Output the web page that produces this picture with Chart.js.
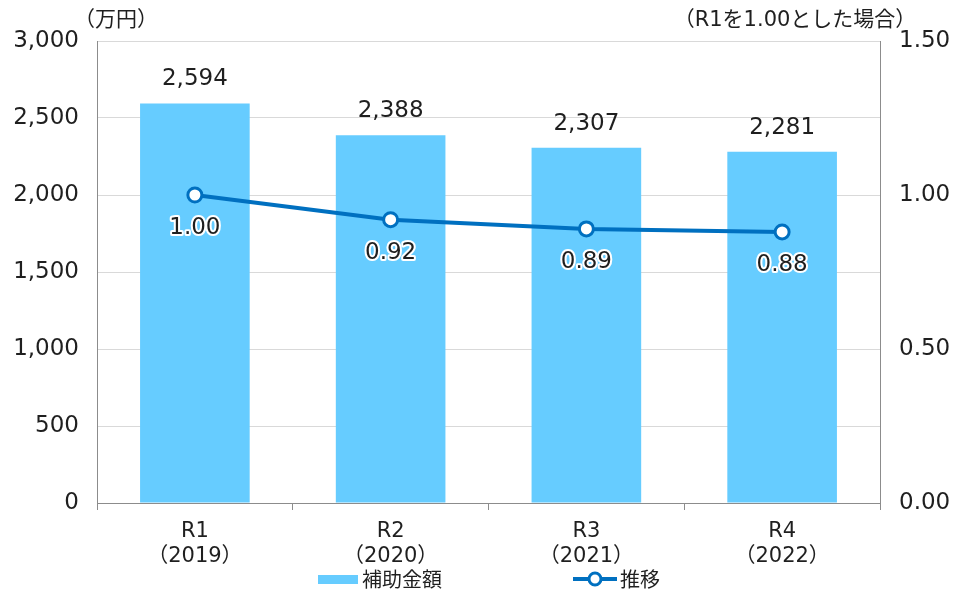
<!DOCTYPE html>
<html>
<head>
<meta charset="utf-8">
<script src="https://cdn.jsdelivr.net/npm/chart.js@4/dist/chart.umd.min.js"></script>
<style>
  html, body { margin: 0; padding: 0; background: #fff; }
  #wrap { position: relative; width: 957px; height: 592px; }
</style>
</head>
<body>
<div id="wrap"><canvas id="chart" width="957" height="592"></canvas></div>
<script>
const categories = [["R1", "（2019）"], ["R2", "（2020）"], ["R3", "（2021）"], ["R4", "（2022）"]];
const subsidyValues = [2594, 2388, 2307, 2281];
const trendValues = [1.00, 0.92, 0.89, 0.88];
const leftTicks = [0, 500, 1000, 1500, 2000, 2500, 3000];
const rightTicks = [0, 0.5, 1.0, 1.5];

const FONT = "'DejaVu Sans', 'Noto Sans CJK JP', sans-serif";
const CJK = "'Noto Sans CJK JP', 'DejaVu Sans', sans-serif";
const barColor = "#66CCFF";
const lineColor = "#0070C0";
const textColor = "#1f1f1f";

// data labels, unit captions and legend drawn on the canvas
const extras = {
    id: "extras",
    afterDatasetsDraw(chart) {
        const ctx = chart.ctx;
        ctx.save();
        ctx.font = "23px " + FONT;
        ctx.textAlign = "center";
        ctx.textBaseline = "middle";
        ctx.fillStyle = textColor;
        chart.getDatasetMeta(1).data.forEach((bar, i) => {
            ctx.fillText(subsidyValues[i].toLocaleString("en-US"), bar.x, bar.y - 24);
        });
        chart.getDatasetMeta(0).data.forEach((pt, i) => {
            const txt = trendValues[i].toFixed(2);
            ctx.lineWidth = 4;
            ctx.strokeStyle = "#fff";
            ctx.lineJoin = "round";
            ctx.strokeText(txt, pt.x, pt.y + 33);
            ctx.fillText(txt, pt.x, pt.y + 33);
        });

        // unit captions
        ctx.font = "21px " + FONT;
        ctx.fillText("（万円）", 116, 21);
        ctx.fillText("（R1を1.00とした場合）", 795, 21);

        // legend
        ctx.font = "20px " + CJK;
        ctx.textAlign = "left";
        ctx.fillStyle = barColor;
        ctx.fillRect(318, 575, 40, 9);
        ctx.fillStyle = textColor;
        ctx.fillText("補助金額", 362, 579);
        ctx.strokeStyle = lineColor;
        ctx.lineWidth = 4;
        ctx.beginPath();
        ctx.moveTo(573, 579);
        ctx.lineTo(617, 579);
        ctx.stroke();
        ctx.beginPath();
        ctx.arc(595, 579, 6, 0, Math.PI * 2);
        ctx.fillStyle = "#fff";
        ctx.fill();
        ctx.lineWidth = 3;
        ctx.stroke();
        ctx.fillStyle = textColor;
        ctx.fillText("推移", 620, 579);
        ctx.restore();
    }
};

new Chart(document.getElementById("chart"), {
    data: {
        labels: categories,
        datasets: [
            {
                type: "line",
                label: "推移",
                data: trendValues,
                yAxisID: "y1",
                borderColor: lineColor,
                borderWidth: 4,
                pointRadius: 7,
                pointBorderWidth: 3,
                pointBackgroundColor: "#fff",
                pointBorderColor: lineColor,
                tension: 0,
                order: 0
            },
            {
                type: "bar",
                label: "補助金額",
                data: subsidyValues,
                yAxisID: "y",
                backgroundColor: barColor,
                barPercentage: 0.56,
                categoryPercentage: 1,
                order: 1
            }
        ]
    },
    options: {
        responsive: false,
        animation: false,
        layout: { padding: { top: 41, left: 0, right: 0, bottom: 0 } },
        plugins: { legend: { display: false }, tooltip: { enabled: false } },
        scales: {
            x: {
                offset: true,
                grid: { offset: true, drawOnChartArea: false, tickLength: 7, color: "#8c8c8c" },
                border: { color: "#8c8c8c", width: 1 },
                ticks: { color: textColor, font: { family: FONT, size: 21, lineHeight: 1.2 }, padding: 9, maxRotation: 0 },
                afterFit(s) { s.height = 89; }
            },
            y: {
                position: "left",
                min: 0,
                max: 3000,
                afterBuildTicks(s) { s.ticks = leftTicks.map(v => ({ value: v })); },
                grid: { color: "#d9d9d9", drawTicks: false },
                border: { color: "#8c8c8c" },
                ticks: {
                    color: textColor,
                    font: { family: FONT, size: 23 },
                    padding: 18,
                    callback: v => v.toLocaleString("en-US")
                },
                afterFit(s) { s.width = 97; }
            },
            y1: {
                position: "right",
                min: 0,
                max: 1.5,
                afterBuildTicks(s) { s.ticks = rightTicks.map(v => ({ value: v })); },
                grid: { drawOnChartArea: false, drawTicks: false },
                border: { color: "#8c8c8c" },
                ticks: {
                    color: textColor,
                    font: { family: FONT, size: 23 },
                    padding: 19,
                    callback: v => v.toFixed(2)
                },
                afterFit(s) { s.width = 77; }
            }
        }
    },
    plugins: [extras]
});
</script>
</body>
</html>
